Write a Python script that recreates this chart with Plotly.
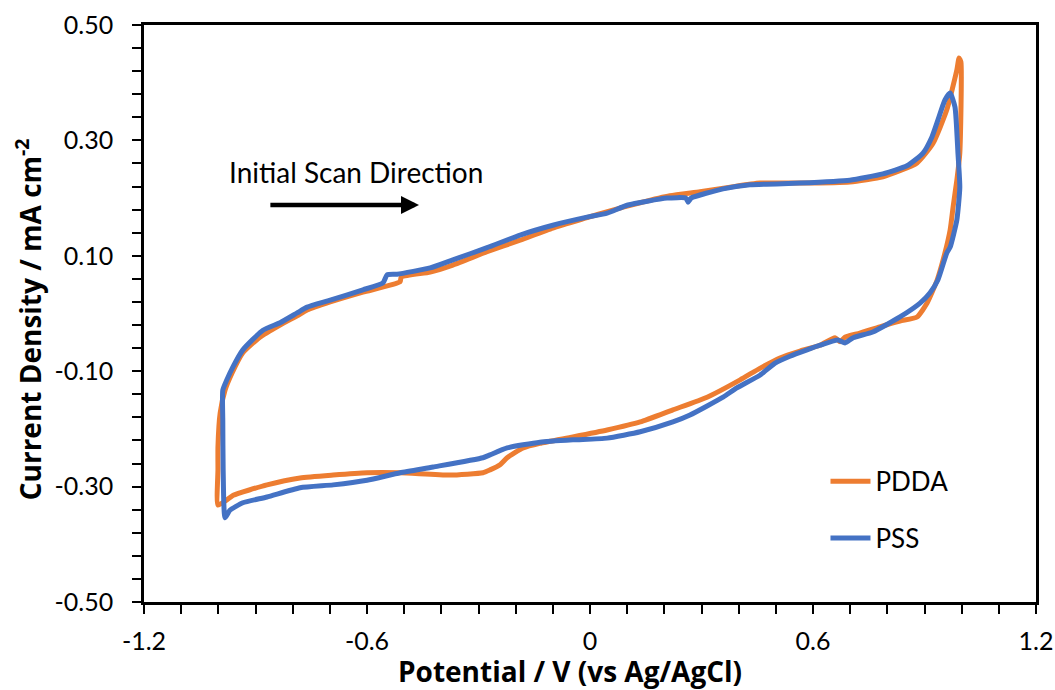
import plotly.graph_objects as go

# Cyclic voltammograms: potential (V vs Ag/AgCl) and current density (mA cm^-2)
pdda_potential = [
    -1.001, -1.001, -1.001, -0.995, -0.982, -0.963, -0.934, -0.888, -0.834, -0.788,
    -0.761, -0.699, -0.611, -0.511, -0.508, -0.430, -0.369, -0.277, -0.188, -0.100,
    -0.008, 0.054, 0.135, 0.215, 0.296, 0.377, 0.457, 0.565, 0.699, 0.788,
    0.880, 0.923, 0.960, 0.987, 0.993, 0.998, 0.995, 0.987, 0.977, 0.969,
    0.955, 0.934, 0.907, 0.880, 0.834, 0.780, 0.726, 0.686, 0.673, 0.659,
    0.619, 0.565, 0.511, 0.457, 0.404, 0.315, 0.223, 0.135, 0.046, -0.046,
    -0.135, -0.180, -0.223, -0.242, -0.269, -0.288, -0.377, -0.511, -0.600, -0.691,
    -0.780, -0.869, -0.960, -0.977, -1.001,
]
pdda_current = [
    -0.332, -0.271, -0.231, -0.172, -0.133, -0.103, -0.068, -0.041, -0.020, -0.004,
    0.006, 0.020, 0.037, 0.055, 0.063, 0.072, 0.084, 0.107, 0.127, 0.148,
    0.166, 0.178, 0.192, 0.204, 0.211, 0.219, 0.226, 0.226, 0.228, 0.237,
    0.261, 0.295, 0.353, 0.422, 0.443, 0.436, 0.278, 0.231, 0.185, 0.145,
    0.105, 0.058, 0.018, -0.006, -0.013, -0.023, -0.034, -0.041, -0.049, -0.042,
    -0.055, -0.065, -0.077, -0.095, -0.115, -0.145, -0.167, -0.188, -0.202, -0.214,
    -0.225, -0.233, -0.250, -0.262, -0.271, -0.276, -0.280, -0.276, -0.276, -0.280,
    -0.285, -0.297, -0.315, -0.323, -0.332,
]

pss_potential = [
    -0.982, -0.987, -0.988, -0.988, -0.977, -0.961, -0.934, -0.880, -0.834, -0.788,
    -0.761, -0.699, -0.611, -0.557, -0.546, -0.519, -0.430, -0.369, -0.277, -0.188,
    -0.100, -0.008, 0.046, 0.102, 0.207, 0.258, 0.264, 0.272, 0.358, 0.430,
    0.565, 0.699, 0.788, 0.853, 0.896, 0.920, 0.936, 0.955, 0.969, 0.982,
    0.990, 0.995, 0.987, 0.969, 0.960, 0.936, 0.915, 0.888, 0.834, 0.761,
    0.708, 0.686, 0.667, 0.619, 0.584, 0.538, 0.498, 0.457, 0.395, 0.358,
    0.269, 0.223, 0.135, 0.046, -0.046, -0.135, -0.223, -0.269, -0.288, -0.422,
    -0.511, -0.600, -0.691, -0.780, -0.869, -0.934, -0.969, -0.982,
]
pss_current = [
    -0.354, -0.271, -0.185, -0.133, -0.115, -0.093, -0.063, -0.029, -0.016, 0.001,
    0.011, 0.023, 0.041, 0.053, 0.067, 0.068, 0.079, 0.093, 0.114, 0.136,
    0.153, 0.167, 0.174, 0.188, 0.200, 0.200, 0.193, 0.200, 0.216, 0.223,
    0.226, 0.231, 0.242, 0.256, 0.278, 0.306, 0.335, 0.370, 0.382, 0.358,
    0.278, 0.219, 0.162, 0.115, 0.105, 0.058, 0.036, 0.018, -0.006, -0.032,
    -0.042, -0.051, -0.046, -0.055, -0.063, -0.074, -0.086, -0.107, -0.129, -0.145,
    -0.176, -0.188, -0.205, -0.216, -0.219, -0.223, -0.233, -0.245, -0.250, -0.266,
    -0.276, -0.289, -0.297, -0.302, -0.318, -0.328, -0.341, -0.354,
]

x_tick_vals = [-1.2, -0.6, 0.0, 0.6, 1.2]
x_tick_text = ["-1.2", "-0.6", "0", "0.6", "1.2"]
y_tick_vals = [0.5, 0.3, 0.1, -0.1, -0.3, -0.5]
y_tick_text = ["0.50", "0.30", "0.10", "-0.10", "-0.30", "-0.50"]

ORANGE = "#ED7D31"
BLUE = "#4472C4"
FONT = "Lato"
TITLE_FONT = "Open Sans"

fig = go.Figure()
fig.add_trace(go.Scatter(
    x=pdda_potential, y=pdda_current, mode="lines", name="PDDA",
    line=dict(color=ORANGE, width=5, shape="spline", smoothing=0.5),
    legendgroup="a",
))
fig.add_trace(go.Scatter(
    x=pss_potential, y=pss_current, mode="lines", name="PSS",
    line=dict(color=BLUE, width=5, shape="spline", smoothing=0.5),
    legendgroup="b",
))

axis_common = dict(
    showline=True, linecolor="black", linewidth=2.5, mirror=True,
    ticks="outside", ticklen=9, tickwidth=2, tickcolor="black",
    showgrid=False, zeroline=False, automargin=False,
    tickfont=dict(family=FONT, size=25, color="black"),
)

fig.update_xaxes(
    range=[-1.2, 1.2], tickmode="array", tickvals=x_tick_vals, ticktext=x_tick_text,
    minor=dict(ticks="outside", dtick=0.1, tick0=-1.2, ticklen=9, tickwidth=2,
               tickcolor="black", showgrid=False),
    ticklabelstandoff=6,
    **axis_common,
)
fig.update_yaxes(
    range=[-0.5, 0.5], tickmode="array", tickvals=y_tick_vals, ticktext=y_tick_text,
    minor=dict(ticks="outside", dtick=0.04, tick0=-0.5, ticklen=9, tickwidth=2,
               tickcolor="black", showgrid=False),
    ticklabelstandoff=14,
    **axis_common,
)

# Axis titles
fig.add_annotation(
    text="<b>Potential / V (vs Ag/AgCl)</b>", xref="paper", yref="paper",
    x=0.478, y=-0.119, xanchor="center", yanchor="middle", showarrow=False,
    borderpad=0, font=dict(family=TITLE_FONT, size=28, color="black"),
)
fig.add_annotation(
    text="<b>Current Density / mA cm<sup>-2</sup></b>", xref="paper", yref="paper",
    x=-0.13, y=0.49, xanchor="center", yanchor="middle", showarrow=False,
    textangle=-90, font=dict(family=TITLE_FONT, size=28, color="black"),
)

# Scan direction label and arrow
fig.add_annotation(
    text="Initial Scan Direction", x=-0.63, y=0.245, xref="x", yref="y",
    showarrow=False, font=dict(family=FONT, size=28, color="black"),
)
fig.add_annotation(
    x=-0.46, y=0.188, ax=-0.864, ay=0.188, xref="x", yref="y", axref="x", ayref="y",
    text="", showarrow=True, arrowhead=2, arrowsize=0.8, arrowwidth=4.5,
    arrowcolor="black",
)

fig.update_layout(
    width=1055, height=690,
    margin=dict(l=144, r=19, t=25, b=88),
    paper_bgcolor="white", plot_bgcolor="white",
    font=dict(family=FONT, color="black"),
    showlegend=True,
    legend=dict(
        x=0.764, y=0.25, xanchor="left", yanchor="top",
        font=dict(family=FONT, size=26, color="black"),
        bgcolor="rgba(0,0,0,0)", tracegroupgap=20, itemwidth=40,
    ),
)

fig.write_html("out.html")
